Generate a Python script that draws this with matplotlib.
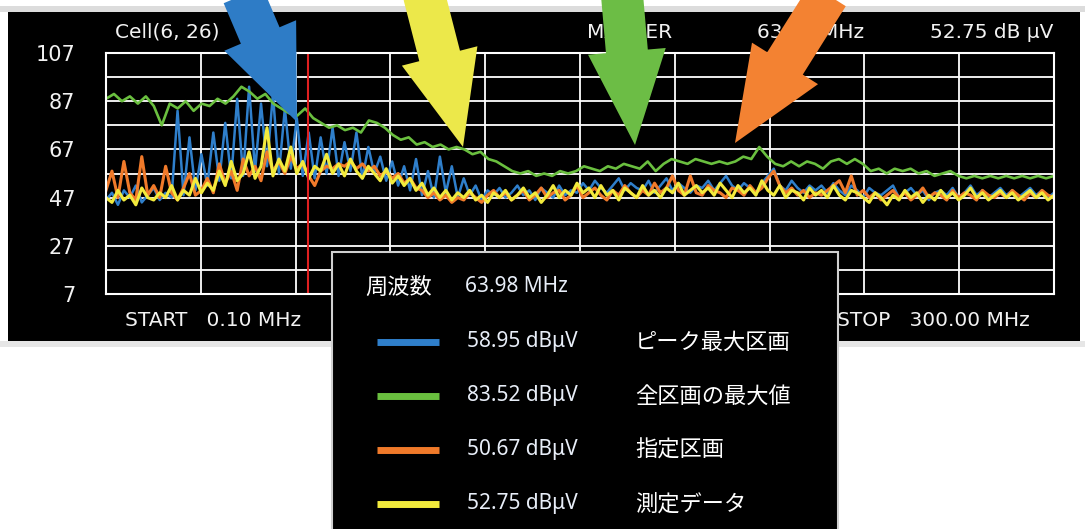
import numpy as np
import matplotlib.pyplot as plt
from matplotlib.patches import Rectangle, FancyArrow

plt.rcParams['font.family'] = ['DejaVu Sans', 'Noto Sans CJK JP']

# sweep settings
freq_start, freq_stop = 0.1, 300.0
marker_freq = 63.98
y_ticks = [7, 17, 27, 37, 47, 57, 67, 77, 87, 97, 107]
y_labels = ['7', '', '27', '', '47', '', '67', '', '87', '', '107']

# max over all segments (green)
green = [88, 90, 87, 89, 86, 89, 85, 77, 86, 84,
         87, 83, 86, 85, 88, 86, 89, 93, 91, 88,
         90, 86, 84, 82, 81, 84, 80, 78, 76, 77,
         75, 76, 74, 79, 78, 76, 73, 71, 72, 69,
         70, 68, 69, 67, 68, 67, 65, 66, 63, 62,
         60, 58, 57, 58, 56, 57, 56, 58, 57, 58,
         60, 59, 58, 60, 59, 61, 60, 59, 62, 58,
         61, 63, 62, 61, 63, 62, 61, 62, 61, 62,
         64, 63, 68, 64, 61, 60, 62, 60, 62, 61,
         59, 62, 63, 61, 63, 61, 58, 59, 57, 59,
         58, 59, 57, 58, 56, 57, 58, 56, 55, 56,
         55, 56, 55, 56, 55, 56, 55, 56, 55, 56]

# measured data (yellow)
yellow = [47, 45, 50, 46, 48, 44, 51, 47, 46, 49,
          47, 52, 46, 50, 48, 55, 49, 53, 50, 58,
          52, 62, 54, 57, 66, 55, 60, 76, 56, 63,
          58, 68, 57, 62, 55, 60, 58, 65, 57, 61,
          56, 63, 58, 55, 60, 57, 54, 59, 53, 56,
          52, 55, 50, 53, 48, 51, 47, 50, 46, 49,
          47, 50, 46, 48, 45, 49, 47, 50, 46, 48,
          51, 47, 49, 45, 48, 52, 47, 50, 48, 53,
          49, 51, 47, 52, 48, 50, 46, 51, 49, 47,
          52, 48, 50, 47, 51, 49, 53, 48, 50, 52,
          49, 51, 48, 53, 50, 47, 52, 49, 51, 48,
          54, 50, 48, 52, 47, 50, 49, 46, 51, 48,
          50, 47, 52, 48, 46, 50, 49, 47, 45, 49,
          47, 44, 48, 46, 50, 47, 49, 45, 48, 46,
          50, 47, 49, 46, 48, 51, 47, 49, 46, 48,
          50, 47, 49, 46, 48, 50, 47, 49, 46, 48]

# selected segment (orange)
orange = [50, 58, 47, 62, 49, 46, 64, 48, 52, 47,
          60, 49, 46, 51, 57, 48, 50, 55, 49, 61,
          53, 58, 50, 63, 56, 60, 54, 66, 58, 62,
          57, 64, 59, 61, 56, 52, 58, 60, 59, 61,
          60, 62, 59, 61, 58, 60, 56, 58, 55, 57,
          53, 55, 51, 50, 47, 49, 46, 48, 45, 47,
          46, 49, 47, 45, 48, 50, 47, 49, 46, 48,
          50, 46, 48, 51, 47, 49, 50, 46, 48, 52,
          47, 49, 51, 48, 46, 50, 48, 52, 49, 47,
          50, 48, 53, 49, 51, 56, 50, 48, 56, 49,
          48, 52, 50, 49, 47, 51, 50, 48, 52, 49,
          51, 55, 58, 52, 49, 51, 48, 50, 47, 49,
          48, 50, 52, 54, 49, 56, 48, 50, 47, 49,
          46, 48, 50, 47, 49, 46, 48, 51, 47, 49,
          48, 46, 50, 47, 49, 48, 46, 50, 48, 47,
          49, 47, 50, 48, 46, 49, 47, 50, 48, 47]

# peak max segment (blue)
blue = [46, 49, 44, 50, 47, 52, 45, 48, 51, 46,
        49, 47, 83, 48, 72, 50, 65, 52, 74, 54,
        78, 55, 88, 56, 93, 58, 86, 60, 90, 57,
        84, 59, 80, 56, 74, 55, 72, 57, 76, 56,
        70, 58, 74, 55, 68, 57, 64, 54, 62, 52,
        60, 50, 63, 48, 58, 47, 64, 49, 60, 47,
        55, 48, 52, 46, 50, 48, 51, 47, 49, 52,
        48, 50, 46, 51, 49, 47, 52, 48, 50, 49,
        53, 50, 54, 51, 49, 52, 55, 50, 53, 51,
        50, 54, 49, 52, 55, 50, 53, 51, 49, 52,
        51, 54, 50, 53, 56, 52, 50, 53, 51, 49,
        53, 56, 59, 52, 50, 54, 51, 49, 52, 50,
        52, 49, 53, 50, 48, 52, 50, 47, 51, 49,
        48, 50, 52, 47, 49, 51, 48, 50, 46, 49,
        50, 48, 51, 47, 49, 52, 48, 50, 47, 49,
        51, 48, 50, 47, 49, 51, 48, 50, 47, 49]

legend_names = ['ピーク最大区画', '全区画の最大値', '指定区画', '測定データ']
legend_values = ['58.95 dBμV', '83.52 dBμV', '50.67 dBμV', '52.75 dBμV']

c_blue = '#2f7fcb'
c_green = '#6abf3f'
c_orange = '#f07a2a'
c_yellow = '#f2ea3c'
legend_colors = [c_blue, c_green, c_orange, c_yellow]

W, H = 1085, 529
fig = plt.figure(figsize=(W / 100, H / 100), dpi=100)
fig.patch.set_facecolor('white')

# background panel (pixel coordinates)
bg = fig.add_axes([0, 0, 1, 1], zorder=0)
bg.set_xlim(0, W)
bg.set_ylim(H, 0)
bg.axis('off')
bg.add_patch(Rectangle((0, 6), W, 6, color='#dcdcdc', lw=0))
bg.add_patch(Rectangle((0, 341), W, 6, color='#e6e6e6', lw=0))
bg.add_patch(Rectangle((8, 12), 1072, 329, color='black', lw=0))

txt = dict(color='#f2f2f2', fontsize=14.5, va='center')
bg.text(115, 32, 'Cell(6, 26)', ha='left', **txt)
bg.text(587, 32, 'MARKER', ha='left', **txt)
bg.text(757, 32, '63.98 MHz', ha='left', **txt)
bg.text(1053, 32, '52.75 dB μV', ha='right', **txt)
bg.text(125, 321, 'START   0.10 MHz', ha='left', **txt)
bg.text(1030, 321, 'STOP   300.00 MHz', ha='right', **txt)

# spectrum plot
ax = fig.add_axes([106 / W, 1 - 294 / H, 948 / W, 241 / H], zorder=1)
ax.set_facecolor('black')
ax.set_xlim(freq_start, freq_stop)
ax.set_ylim(7, 107)
ax.set_xticks(np.linspace(freq_start, freq_stop, 11))
ax.set_xticklabels([])
ax.set_yticks(y_ticks)
ax.set_yticklabels(y_labels)
ax.tick_params(length=0, labelcolor='#f2f2f2', labelsize=15, pad=22)
ax.grid(color='white', lw=1.3)
ax.set_axisbelow(True)
for s in ax.spines.values():
    s.set_color('white')
    s.set_linewidth(1.5)

for data, col, w in [(blue, c_blue, 1.8), (orange, c_orange, 2.2),
                     (yellow, c_yellow, 2.2), (green, c_green, 1.9)]:
    f = np.linspace(freq_start, freq_stop, len(data))
    ax.plot(f, data, color=col, lw=w)
ax.axvline(marker_freq, color='#e02020', lw=1.5)

# overlay: legend box and arrows
top = fig.add_axes([0, 0, 1, 1], zorder=5)
top.patch.set_alpha(0)
top.set_xlim(0, W)
top.set_ylim(H, 0)
top.axis('off')

top.add_patch(Rectangle((332, 252), 506, 290, fc='black', ec='#d0d0d0', lw=1.5))
top.text(365, 287, '周波数', fontsize=16, color='white', va='center',
         family=['Noto Sans CJK JP'])
top.text(465, 287, '63.98 MHz', fontsize=15, color='#e8eef8', va='center',
         family=['Noto Sans', 'DejaVu Sans'])
for i, (name, val, col) in enumerate(zip(legend_names, legend_values, legend_colors)):
    yy = 342 + i * 54
    top.plot([377, 439], [yy, yy], color=col, lw=5, solid_capstyle='butt')
    top.text(467, yy, val, fontsize=15, color='#e8eef8', va='center',
             family=['Noto Sans', 'DejaVu Sans'])
    top.text(635, yy, name, fontsize=16, color='white', va='center',
             family=['Noto Sans CJK JP'])

arrows = [((243, -5), (297, 122), '#2e7cc6'),
          ((424, -5), (463, 147), '#ece84a'),
          ((622, -5), (635, 145), '#6cbd45'),
          ((828, -5), (735, 143), '#f38232')]
for (x0, y0), (x1, y1), col in arrows:
    top.add_patch(FancyArrow(x0, y0, x1 - x0, y1 - y0, width=42, head_width=78,
                             head_length=94, length_includes_head=True,
                             color=col, lw=0))

fig.savefig('out.png', dpi=100)
